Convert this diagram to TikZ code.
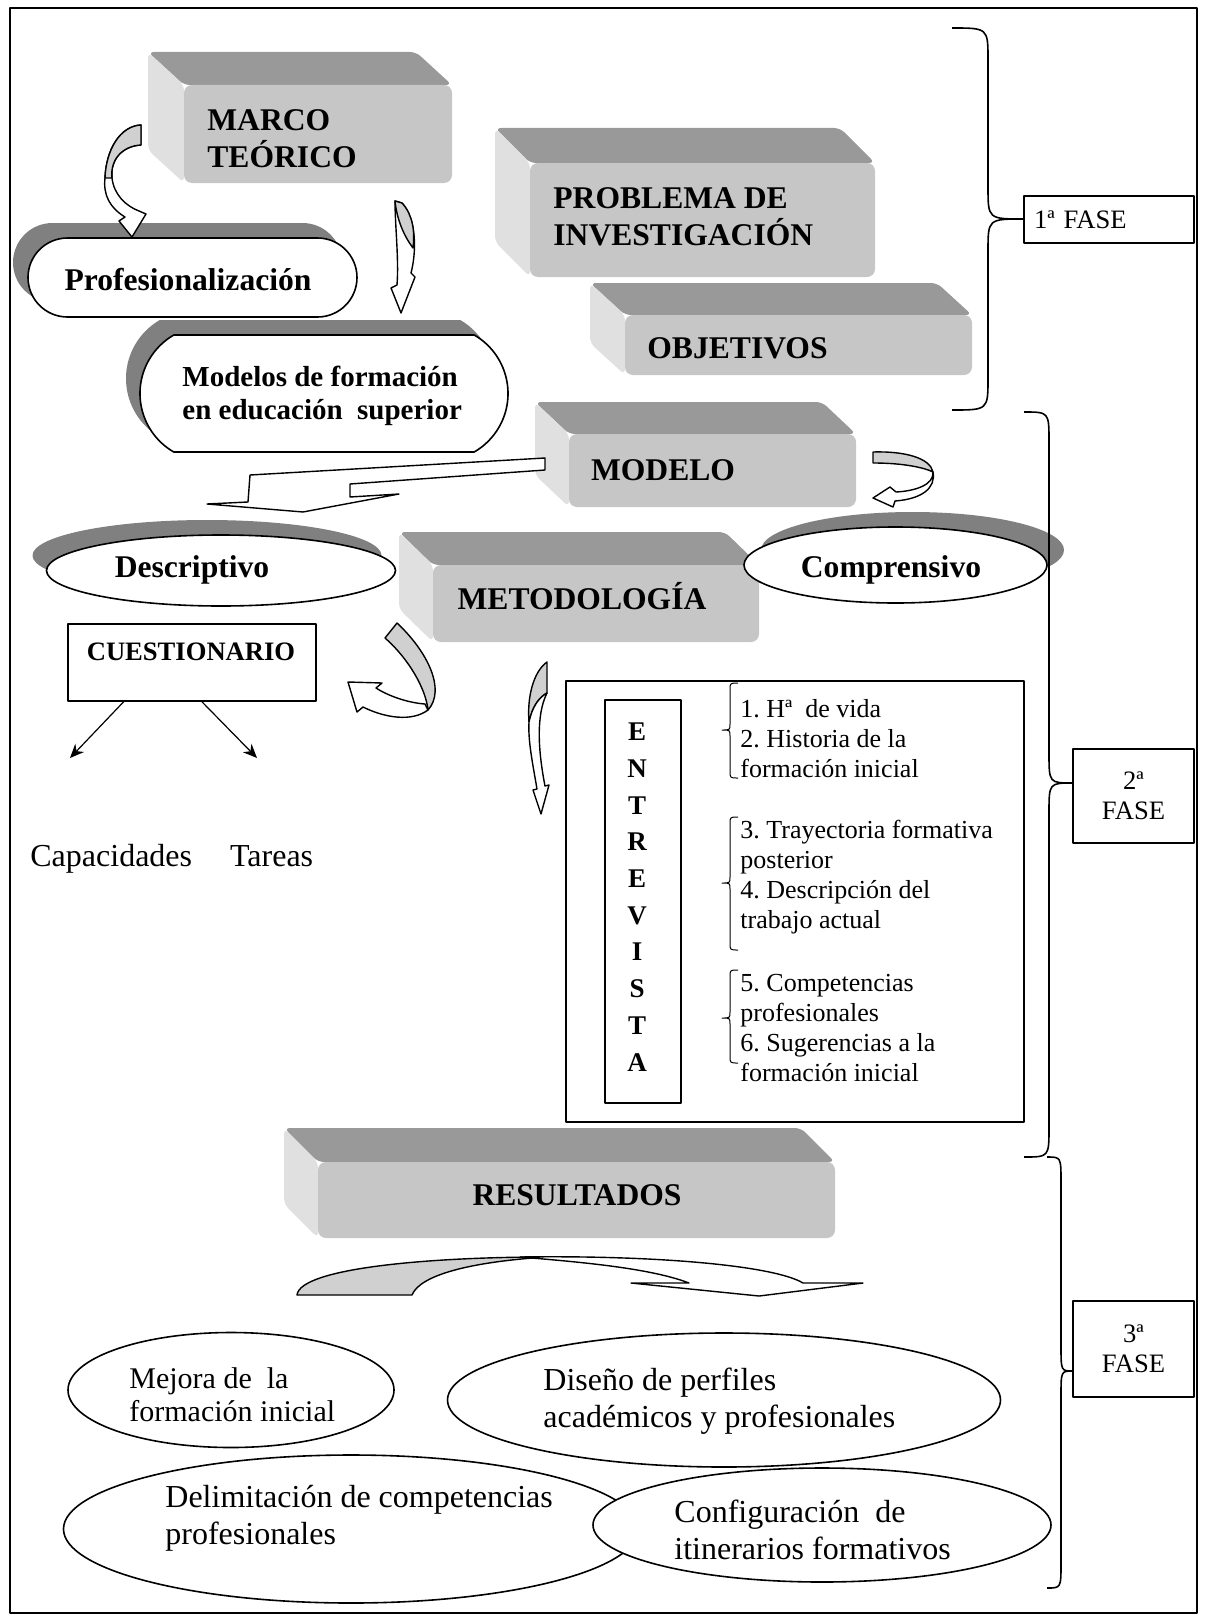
\documentclass[tikz,border=0pt]{standalone}
\usepackage{fontspec}
\setmainfont{Liberation Serif}
\usetikzlibrary{shapes.geometric,shapes.misc,shadows,arrows.meta,calc}
\frenchspacing

\definecolor{cubetop}{RGB}{153,153,153}
\definecolor{cubeside}{RGB}{224,224,224}
\definecolor{cubefront}{RGB}{198,198,198}
\definecolor{shadowgray}{RGB}{128,128,128}
\definecolor{ribbongray}{RGB}{208,208,208}

% bevelled block: front face (#1,#2)-(#3,#4), depth (#5,#6) towards the upper left
\newcommand\blockshape[6]{%
  \fill[cubetop, rounded corners=3pt] (#1,#2) -- ({#1-#5},{#2-#6}) -- ({#3-#5},{#2-#6}) -- (#3,#2) -- cycle;
  \fill[cubeside, rounded corners=3pt] (#1,#2) -- ({#1-#5},{#2-#6}) -- ({#1-#5},{#4-#6}) -- (#1,#4) -- cycle;
  \fill[cubefront, rounded corners=4pt] (#1,#2) rectangle (#3,#4);
}

% left curly brace: stem x, top, tip, bottom
\newcommand\leftbrace[4]{%
  \draw[smallbrace] ({#1+8},#2) .. controls (#1,#2) .. (#1,{#2+7}) -- (#1,{#3-6})
    .. controls (#1,#3) .. ({#1-8},#3) .. controls (#1,#3) .. (#1,{#3+6})
    -- (#1,{#4-7}) .. controls (#1,#4) .. ({#1+8},#4);
}

% right curly brace: hook x, stem x, tip x, top, tip y, bottom, bend
\newcommand\rightbrace[7]{%
  \draw[bigbrace] (#1,#4) .. controls (#2,#4) .. (#2,{#4+#7}) -- (#2,{#5-#7})
    .. controls (#2,#5) .. (#3,#5) .. controls (#2,#5) .. (#2,{#5+#7})
    -- (#2,{#6-#7}) .. controls (#2,#6) .. (#1,#6);
}

\begin{document}
\begin{tikzpicture}[x=0.5pt,y=-0.5pt,line join=round,
  title/.style={font=\bfseries\fontsize{15.8}{18.5}\selectfont,inner sep=0pt,align=left},
  stadium/.style={rounded rectangle,draw,fill=white,line width=0.8pt,inner sep=0pt},
  oval/.style={ellipse,draw,fill=white,line width=0.8pt,inner sep=0pt},
  frame/.style={draw,line width=0.8pt,inner sep=0pt},
  item/.style={font=\fontsize{13}{15}\selectfont,inner sep=0pt,align=left},
  body/.style={font=\fontsize{16}{18.3}\selectfont,inner sep=0pt,align=left},
  fase/.style={frame,font=\fontsize{13.3}{15}\selectfont,align=center},
  ribbon/.style={draw,line width=0.7pt,fill=white},
  ribbonback/.style={draw,line width=0.7pt,fill=ribbongray},
  arr/.style={line width=0.6pt,-{Stealth[length=7pt,width=6pt]}},
  smallbrace/.style={line width=0.5pt},
  bigbrace/.style={line width=0.8pt}]

\useasboundingbox (0,0) rectangle (1204,1616);
\draw[line width=1pt] (10,8) rectangle (1197,1613);

% blocks
\blockshape{184}{85}{452}{183}{36}{33}
\blockshape{530}{163}{875}{277}{35}{35}
\blockshape{625}{315}{972}{375}{35}{32}
\blockshape{569}{434}{856}{507}{34}{32}
\blockshape{433}{565}{759}{642}{34}{33}
\blockshape{318}{1162}{835}{1238}{34}{34}

% shadowed rounded shapes
\node[stadium,minimum width=164.5pt,minimum height=39.5pt,
  drop shadow={opacity=1,fill=shadowgray,shadow xshift=-7.5pt,shadow yshift=7.5pt}]
  (prof) at (192.5,277.5) {};
\node[stadium,rounded rectangle arc length=120,minimum width=184pt,minimum height=58.5pt,
  drop shadow={opacity=1,fill=shadowgray,shadow xshift=-7pt,shadow yshift=7.5pt}]
  (modelos) at (324,393.5) {};
\node[oval,minimum width=174.5pt,minimum height=35.5pt,
  drop shadow={opacity=1,fill=shadowgray,shadow xshift=-7pt,shadow yshift=7.5pt}]
  (descr) at (221,570.5) {};
\node[oval,minimum width=151.5pt,minimum height=38pt,
  drop shadow={opacity=1,fill=shadowgray,shadow xshift=8.5pt,shadow yshift=7.5pt}]
  (compr) at (895.5,565) {};

% curved ribbon arrows
\path[ribbon] (141,145) .. controls (122,146) and (110,160) .. (112,178)
  .. controls (114,195) and (126,206) .. (139,211) -- (146,214) -- (132,237) -- (119,221) -- (125,217)
  .. controls (110,208) and (103,195) .. (105,178) .. controls (106,150) and (120,126) .. (141,125) -- cycle;
\path[ribbonback] (141,125) .. controls (120,126) and (106,150) .. (105,178) -- (112,178)
  .. controls (110,160) and (122,146) .. (141,145) -- cycle;

\path[ribbon] (395,201) -- (402,203) .. controls (416,218) and (417,250) .. (411,273) -- (415,277)
  -- (401,313) -- (391,288) -- (397,285) .. controls (399,260) and (395,225) .. (395,201) -- cycle;
\path[ribbonback] (395,201) -- (402,203) .. controls (413,215) and (415,232) .. (413,248)
  .. controls (404,236) and (397,220) .. (395,201) -- cycle;

\path[ribbon] (545,458) -- (545,470) -- (350,484) -- (350,497) -- (399,494) -- (303,512)
  -- (207,504) -- (248,502) -- (250,475) -- cycle;

\path[ribbonback] (873,452) .. controls (905,451) and (930,458) .. (933,472)
  .. controls (925,468) and (905,463) .. (873,463) -- cycle;
\path[ribbon] (933,472) .. controls (934,485) and (915,491) .. (896,492) -- (890,487) -- (873,498)
  -- (893,507) -- (895,501) .. controls (922,499) and (936,488) .. (933,472) -- cycle;

\path[ribbonback] (385,638) -- (397,623) .. controls (428,652) and (446,690) .. (428,710)
  .. controls (426,690) and (410,660) .. (385,638) -- cycle;
\path[ribbon] (376,688) -- (382,683) -- (348,682) -- (357,712) -- (363,707)
  .. controls (385,718) and (412,722) .. (428,710) .. controls (426,707) .. (425,704)
  .. controls (410,703) and (390,697) .. (376,688) -- cycle;

\path[ribbonback] (547,662) -- (547,693) .. controls (538,698) and (532,708) .. (529,722)
  .. controls (527,698) and (533,672) .. (547,662) -- cycle;
\path[ribbon] (547,693) .. controls (536,715) and (538,750) .. (545,786) -- (549,785) -- (541,814)
  -- (533,790) -- (537,789) .. controls (532,760) and (528,740) .. (529,722)
  .. controls (532,708) and (538,698) .. (547,693) -- cycle;

\path[ribbonback] (297,1295) .. controls (300,1268) and (430,1257) .. (546,1257)
  .. controls (470,1262) and (420,1275) .. (412,1295) -- cycle;
\path[ribbon] (520,1257) .. controls (660,1255) and (775,1266) .. (803,1283) -- (863,1283)
  -- (759,1296) -- (631,1283) -- (689,1283) .. controls (650,1268) and (580,1262) .. (520,1257) -- cycle;

% block and shape labels
\node[title,anchor=north west] (marcotxt) at (207,109) {MARCO\\TEÓRICO};
\node[title,anchor=north west] (probtxt) at (553,187) {PROBLEMA DE\\INVESTIGACIÓN};
\node[title,anchor=base] (objtxt) at (737.5,358) {OBJETIVOS};
\node[title,anchor=base] (modtxt) at (663,480) {MODELO};
\node[title,anchor=base] (mettxt) at (582,609) {METODOLOGÍA};
\node[title,anchor=base] (restxt) at (577,1205) {RESULTADOS};
\node[title,anchor=base] (proftxt) at (188,290) {Profesionalización};
\node[font=\bfseries\fontsize{14.5}{16.5}\selectfont,inner sep=0pt,align=left,anchor=north west]
  (modelostxt) at (182,366) {Modelos de formación\\en educación\ \ superior};
\node[title,anchor=base] (descrtxt) at (192,577) {Descriptivo};
\node[title,anchor=base] (comprtxt) at (891,577) {Comprensivo};

% questionnaire
\node[frame,minimum width=124pt,minimum height=38.5pt] (cuest) at (192,662.5) {};
\node[font=\bfseries\fontsize{13.3}{15}\selectfont,inner sep=0pt,anchor=base] (cuesttxt) at (191,660) {CUESTIONARIO};
\coordinate (capend) at (70,758);
\coordinate (tarend) at (257,758);
\draw[arr] ($(cuest.south west)!0.226!(cuest.south east)$) -- (capend);
\draw[arr] ($(cuest.south west)!0.54!(cuest.south east)$) -- (tarend);
\node[body,anchor=base west] (captxt) at (30,866) {Capacidades\hspace{19pt}Tareas};

% interview
\node[frame,minimum width=229pt,minimum height=220.5pt] (entbox) at (795,901.5) {};
\node[frame,minimum width=38pt,minimum height=201.5pt] (entcol) at (643,901.5) {};
\node[font=\bfseries\fontsize{13.5}{18.35}\selectfont,inner sep=0pt,align=center] (letras) at (637,897)
  {E\\N\\T\\R\\E\\V\\I\\S\\T\\A};
\node[item,anchor=north west] (it1) at (740,699) {1. Hª~ de vida\\2. Historia de la\\formación inicial};
\node[item,anchor=north west] (it2) at (740,820) {3. Trayectoria formativa\\posterior\\4. Descripción del\\trabajo actual};
\node[item,anchor=north west] (it3) at (740,974) {5. Competencias\\profesionales\\6. Sugerencias a la\\formación inicial};
\leftbrace{730}{683}{730}{778}
\leftbrace{730}{817}{883}{950}
\leftbrace{730}{970}{1018}{1063}

% results
\node[oval,minimum width=163pt,minimum height=57.5pt] (mejora) at (231,1390) {};
\node[oval,minimum width=276.5pt,minimum height=67pt] (diseno) at (724,1400) {};
\node[oval,minimum width=287.5pt,minimum height=74pt] (delim) at (351,1529) {};
\node[oval,minimum width=229pt,minimum height=57pt] (config) at (822,1525) {};
\node[font=\fontsize{15}{16.5}\selectfont,inner sep=0pt,align=left,anchor=north west]
  (mejoratxt) at (129,1367) {Mejora de\ \ la\\formación inicial};
\node[body,anchor=north west] (disenotxt) at (543,1368) {Diseño de perfiles\\académicos y profesionales};
\node[body,anchor=north west] (delimtxt) at (165,1485) {Delimitación de competencias\\profesionales};
\node[body,anchor=north west] (configtxt) at (674,1500) {Configuración\ \ de\\itinerarios formativos};

% phases
\node[fase,text width=75pt,align=left,inner xsep=5pt,minimum height=23.5pt] (fase1) at (1109,219.5) {1ª FASE};
\node[fase,minimum width=60.5pt,minimum height=47pt] (fase2) at (1133.5,796) {2ª\\FASE};
\node[fase,minimum width=60.5pt,minimum height=48pt] (fase3) at (1133.5,1349) {3ª\\FASE};
\rightbrace{952}{988}{1024}{28}{219}{410}{32}
\rightbrace{1024}{1049}{1073}{412}{783}{1157}{30}
\rightbrace{1047}{1061}{1073}{1157}{1371}{1588}{25}
\end{tikzpicture}
\end{document}
